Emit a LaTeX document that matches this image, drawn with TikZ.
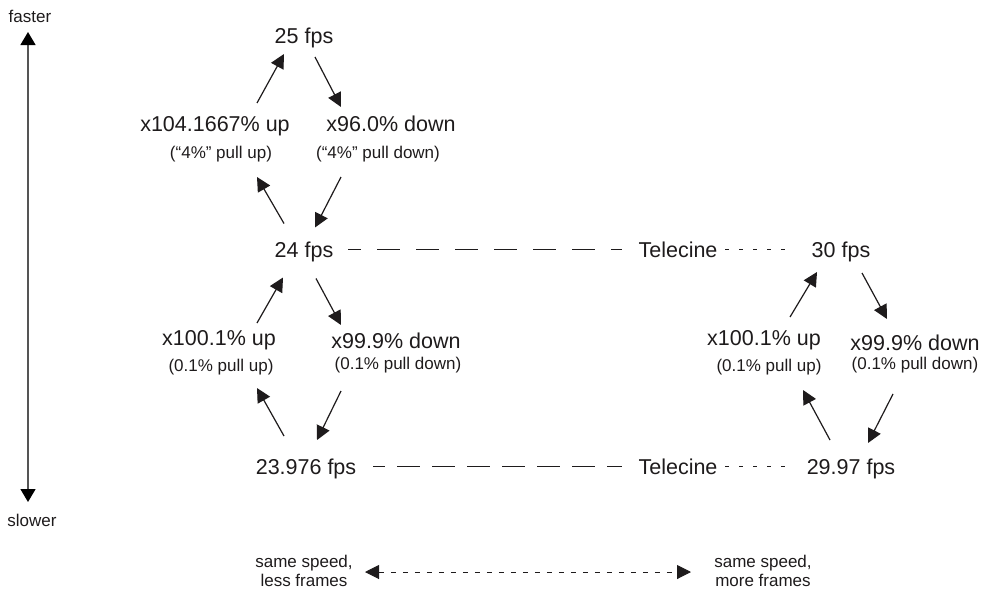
\documentclass[tikz,border=0pt]{standalone}
\usepackage{fontspec}
\setmainfont{Liberation Sans}
\usetikzlibrary{arrows.meta, positioning}
\definecolor{mytext}{RGB}{30,27,28}
\definecolor{myaxis}{RGB}{85,85,85}
\tikzset{
  rate/.style={anchor=base, inner sep=0pt,
    font=\fontsize{21.5}{24}\selectfont, text=mytext},
  note/.style={anchor=base, inner sep=0pt,
    font=\fontsize{17}{19}\selectfont, text=mytext},
  sidenote/.style={align=center, inner sep=0pt,
    font=\fontsize{17}{19}\selectfont, text=mytext},
  pull/.style={-{Triangle[length=14pt, width=14pt]}, line width=1.2pt, color=mytext},
  axis/.style={{Triangle[length=13pt, width=15pt, color=black]}-{Triangle[length=13pt, width=15pt, color=black]},
    line width=1.4pt, color=myaxis},
  longdash/.style={line width=1pt, color=mytext},
  shortdash/.style={line width=1pt, color=mytext, dash pattern=on 4pt off 10pt},
  samearrow/.style={{Triangle[length=14pt, width=14pt]}-{Triangle[length=14pt, width=14pt]},
    line width=1pt, color=mytext, dash pattern=on 5pt off 7pt}
}

\begin{document}
\begin{tikzpicture}[x=1pt, y=-1pt]
  \useasboundingbox (0,0) rectangle (981,589);

  % Speed axis
  \node[note] (faster) at (30,22) {faster};
  \node[note] (slower) at (32,526) {slower};
  \draw[axis] ([shift={(-2,10)}]faster.base) -- ([shift={(-4,-24)}]slower.base);

  % 25 fps loop
  \node[rate] (fps25) at (304,43) {25 fps};
  \node[rate] (up1) at (215,131) {x104.1667\% up};
  \node[note] (up1n) at (221,158) {(“4\%” pull up)};
  \node[rate] (down1) at (391,131) {x96.0\% down};
  \node[note] (down1n) at (378,158) {(“4\%” pull down)};

  % 24 fps row
  \node[rate] (fps24) at (304,257.5) {24 fps};
  \node[rate] (tele1) at (678,257.5) {Telecine};
  \node[rate] (fps30) at (841,257.5) {30 fps};

  % 0.1% loops
  \node[rate] (up2) at (219,345) {x100.1\% up};
  \node[note] (up2n) at (221,371) {(0.1\% pull up)};
  \node[rate] (down2) at (396,348) {x99.9\% down};
  \node[note] (down2n) at (398,369) {(0.1\% pull down)};
  \node[rate] (up3) at (764,345) {x100.1\% up};
  \node[note] (up3n) at (769,371) {(0.1\% pull up)};
  \node[rate] (down3) at (915,350) {x99.9\% down};
  \node[note] (down3n) at (915,369) {(0.1\% pull down)};

  % 23.976 fps row
  \node[rate] (fps23) at (306,474) {23.976 fps};
  \node[rate] (tele2) at (678,474) {Telecine};
  \node[rate] (fps29) at (851,474) {29.97 fps};

  % Same speed
  \node[sidenote] (sameL) at (304,571) {same speed,\\less frames};
  \node[sidenote] (sameR) at (763,571) {same speed,\\more frames};

  \draw[pull] ([shift={(42,-28)}]up1.base) -- ([shift={(-20,11)}]fps25.base);
  \draw[pull] ([shift={(11,14)}]fps25.base) -- ([shift={(-50,-24)}]down1.base);
  \draw[pull] ([shift={(-20,-34)}]fps24.base) -- ([shift={(36,19)}]up1n.base);
  \draw[pull] ([shift={(-37,19)}]down1n.base) -- ([shift={(11,-30)}]fps24.base);

  \draw[pull] ([shift={(38,-22)}]up2.base) -- ([shift={(-21,20)}]fps24.base);
  \draw[pull] ([shift={(12,21)}]fps24.base) -- ([shift={(-55,-23)}]down2.base);
  \draw[pull] ([shift={(-22,-38)}]fps23.base) -- ([shift={(36,17)}]up2n.base);
  \draw[pull] ([shift={(-57,22)}]down2n.base) -- ([shift={(11,-34)}]fps23.base);

  \draw[pull] ([shift={(26,-28)}]up3.base) -- ([shift={(-24,14.5)}]fps30.base);
  \draw[pull] ([shift={(21,15.5)}]fps30.base) -- ([shift={(-28,-31)}]down3.base);
  \draw[pull] ([shift={(-21,-34)}]fps29.base) -- ([shift={(34,19)}]up3n.base);
  \draw[pull] ([shift={(-22,25)}]down3n.base) -- ([shift={(17,-31)}]fps29.base);

  \draw[longdash, dash pattern=on 23pt off 16pt, dash phase=10pt]
    ([shift={(44,-8)}]fps24.base) -- ([shift={(-56,-8)}]tele1.base);
  \draw[shortdash] ([shift={(47,-8)}]tele1.base) -- ([shift={(-56,-8)}]fps30.base);
  \draw[longdash, dash pattern=on 23pt off 12pt, dash phase=11pt]
    ([shift={(67,-8)}]fps23.base) -- ([shift={(-56,-8)}]tele2.base);
  \draw[shortdash] ([shift={(47,-8)}]tele2.base) -- ([shift={(-66,-8)}]fps29.base);

  \draw[samearrow] ([shift={(61,1)}]sameL.center) -- ([shift={(-72,1)}]sameR.center);
\end{tikzpicture}
\end{document}
